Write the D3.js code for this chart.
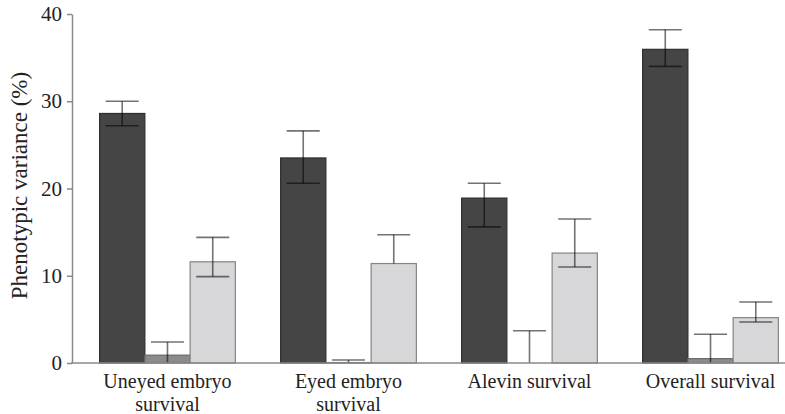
<!DOCTYPE html>
<html>
<head>
<meta charset="utf-8">
<script src="https://cdn.jsdelivr.net/npm/d3@7"></script>
<style>
  html, body { margin: 0; padding: 0; background: #ffffff; }
  svg { display: block; }
  svg text { font-family: "Liberation Serif", "DejaVu Serif", "Times New Roman", serif; }
</style>
</head>
<body>
<svg id="chart" width="785" height="414"></svg>
<script>
// ---- data ----
const categories = [["Uneyed embryo", "survival"], ["Eyed embryo", "survival"], ["Alevin survival"], ["Overall survival"]];
const seriesKeys = ["s1", "s2", "s3"];
const s1Values = [28.6, 23.5, 18.9, 35.95];
const s2Values = [0.9, 0.05, 0, 0.5];
const s3Values = [11.6, 11.4, 12.6, 5.2];
const s1Upper = [30.0, 26.6, 20.6, 38.2];
const s2Upper = [2.4, 0.35, 3.7, 3.3];
const s3Upper = [14.4, 14.7, 16.5, 7.0];
const s1Lower = [27.2, 20.6, 15.6, 34.0];
const s2Lower = [0, 0, 0, 0];
const s3Lower = [9.9, null, 11.0, 4.7];
const yTicks = [0, 10, 20, 30, 40];
const yLabel = "Phenotypic variance (%)";

// ---- styles ----
const fills = { s1: "#454546", s2: "#8b8b8c", s3: "#d7d7d9" };
const strokes = { s1: "#2e2e2e", s2: "#6a6a6a", s3: "#858585" };

const svg = d3.select("#chart");
const mLeft = 72, mBottom = 363, mTop = 14;

const y = d3.scaleLinear().domain([0, 40]).range([mBottom, mTop]);
const x0 = d3.scaleBand().domain(d3.range(categories.length)).range([mLeft, 806])
  .paddingInner(0.25).paddingOuter(0.1525);
const x1 = d3.scaleBand().domain(seriesKeys).range([0, x0.bandwidth()]).padding(0);

const vals = { s1: s1Values, s2: s2Values, s3: s3Values };
const ups = { s1: s1Upper, s2: s2Upper, s3: s3Upper };
const los = { s1: s1Lower, s2: s2Lower, s3: s3Lower };

const data = [];
categories.forEach((c, i) => {
  seriesKeys.forEach(k => {
    data.push({ i, k, v: vals[k][i], hi: ups[k][i], lo: los[k][i] });
  });
});

// bars
svg.append("g").selectAll("rect").data(data).join("rect")
  .attr("x", d => x0(d.i) + x1(d.k))
  .attr("y", d => y(d.v))
  .attr("width", x1.bandwidth())
  .attr("height", d => y(0) - y(d.v))
  .attr("fill", d => fills[d.k])
  .attr("stroke", d => strokes[d.k])
  .attr("stroke-width", 1.2);

// error bars
const errColor = "rgba(0,0,0,0.55)";
const capW = x1.bandwidth() * 0.73;
const eg = svg.append("g").attr("stroke", errColor).attr("stroke-width", 1.6).attr("fill", "none");
data.forEach(d => {
  const cx = x0(d.i) + x1(d.k) + x1.bandwidth() / 2;
  const loV = d.lo == null ? d.v : d.lo;
  eg.append("line").attr("x1", cx).attr("x2", cx).attr("y1", y(d.hi)).attr("y2", y(loV));
  eg.append("line").attr("x1", cx - capW / 2).attr("x2", cx + capW / 2).attr("y1", y(d.hi)).attr("y2", y(d.hi));
  if (d.lo != null && d.lo > 0) {
    eg.append("line").attr("x1", cx - capW / 2).attr("x2", cx + capW / 2).attr("y1", y(d.lo)).attr("y2", y(d.lo));
  }
});

// y axis
const yAxis = svg.append("g").attr("transform", `translate(${mLeft},0)`)
  .call(d3.axisLeft(y).tickValues(yTicks).tickSize(5).tickPadding(5).tickSizeOuter(0));
yAxis.attr("font-family", null);
yAxis.select(".domain").attr("stroke", "#8a8a8a").attr("stroke-width", 1.5);
yAxis.selectAll(".tick line").attr("stroke", "#8a8a8a").attr("stroke-width", 1.5);
yAxis.selectAll(".tick text").style("font-size", "21px").attr("fill", "#222");

// x axis line
svg.append("line").attr("x1", mLeft - 1).attr("x2", 785).attr("y1", mBottom).attr("y2", mBottom)
  .attr("stroke", "#8a8a8a").attr("stroke-width", 1.5);

// category labels
const lab = svg.append("g").style("font-size", "20px").attr("fill", "#222").attr("text-anchor", "middle");
categories.forEach((lines, i) => {
  const cx = x0(i) + x0.bandwidth() / 2;
  const t = lab.append("text").attr("x", cx).attr("y", 388);
  lines.forEach((ln, j) => {
    t.append("tspan").attr("x", cx).attr("dy", j === 0 ? 0 : 22.5).text(ln);
  });
});

// y label
svg.append("text")
  .attr("transform", `translate(27,${(mTop + mBottom) / 2 - 3}) rotate(-90)`)
  .attr("text-anchor", "middle")
  .style("font-size", "23px").attr("fill", "#222")
  .text(yLabel);
</script>
</body>
</html>
